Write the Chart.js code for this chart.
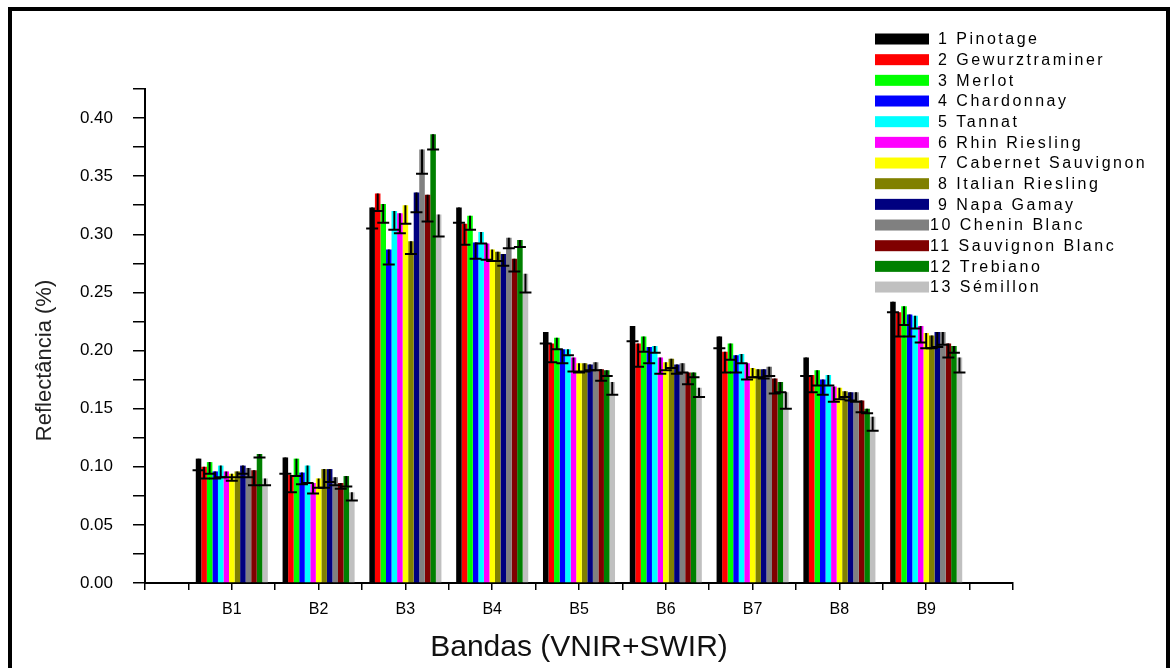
<!DOCTYPE html>
<html>
<head>
<meta charset="utf-8">
<script src="https://cdn.jsdelivr.net/npm/chart.js@4.4.1/dist/chart.umd.min.js"></script>
<style>
  html, body { margin: 0; padding: 0; background: #fff; overflow: hidden; }
  #wrap { position: relative; width: 1175px; height: 668px; }
  #frame { position: absolute; left: 8px; top: 7px; width: 1154px; height: 700px; border: 4px solid #000; pointer-events: none; }
</style>
</head>
<body>
<div id="wrap">
  <canvas id="myChart" width="1175" height="668"></canvas>
  <div id="frame"></div>
</div>
<script>
// bands on the x axis
const bands = ['B1', 'B2', 'B3', 'B4', 'B5', 'B6', 'B7', 'B8', 'B9'];

// grape varieties (legend order)
const varieties = ['1 Pinotage', '2 Gewurztraminer', '3 Merlot', '4 Chardonnay', '5 Tannat',
  '6 Rhin Riesling', '7 Cabernet Sauvignon', '8 Italian Riesling', '9 Napa Gamay',
  '10 Chenin Blanc', '11 Sauvignon Blanc', '12 Trebiano', '13 Sémillon'];

const colors = ['#000000', '#ff0000', '#00ff00', '#0000ff', '#00ffff', '#ff00ff', '#ffff00',
  '#808000', '#000080', '#808080', '#800000', '#008000', '#c0c0c0'];

// mean reflectance per band, one value per variety (1..13)
const b1 = [0.107, 0.100, 0.104, 0.096, 0.101, 0.096, 0.094, 0.096, 0.101, 0.099, 0.097, 0.111, 0.090];
const b2 = [0.108, 0.093, 0.107, 0.095, 0.101, 0.086, 0.090, 0.098, 0.098, 0.091, 0.086, 0.092, 0.078];
const b3 = [0.323, 0.335, 0.326, 0.287, 0.320, 0.318, 0.325, 0.294, 0.336, 0.373, 0.334, 0.386, 0.317];
const b4 = [0.323, 0.309, 0.316, 0.293, 0.302, 0.292, 0.287, 0.285, 0.283, 0.297, 0.279, 0.295, 0.266];
const b5 = [0.216, 0.206, 0.211, 0.201, 0.201, 0.194, 0.189, 0.189, 0.188, 0.190, 0.184, 0.183, 0.173];
const b6 = [0.221, 0.206, 0.212, 0.203, 0.204, 0.194, 0.190, 0.193, 0.188, 0.189, 0.181, 0.181, 0.168];
const b7 = [0.212, 0.199, 0.206, 0.196, 0.197, 0.189, 0.185, 0.184, 0.184, 0.186, 0.176, 0.173, 0.164];
const b8 = [0.194, 0.179, 0.183, 0.175, 0.179, 0.169, 0.168, 0.165, 0.164, 0.164, 0.157, 0.150, 0.143];
const b9 = [0.242, 0.233, 0.238, 0.231, 0.230, 0.221, 0.215, 0.213, 0.216, 0.216, 0.206, 0.204, 0.194];

// error (drawn downwards) per band
const b1Err = [0.010, 0.010, 0.010, 0.006, 0.010, 0.005, 0.006, 0.005, 0.007, 0.008, 0.013, 0.003, 0.006];
const b2Err = [0.014, 0.015, 0.015, 0.010, 0.015, 0.009, 0.008, 0.016, 0.011, 0.007, 0.005, 0.009, 0.007];
const b3Err = [0.018, 0.015, 0.016, 0.013, 0.016, 0.017, 0.016, 0.011, 0.017, 0.021, 0.023, 0.013, 0.019];
const b4Err = [0.013, 0.018, 0.012, 0.014, 0.010, 0.014, 0.010, 0.008, 0.010, 0.009, 0.011, 0.006, 0.016];
const b5Err = [0.010, 0.016, 0.010, 0.012, 0.005, 0.012, 0.008, 0.007, 0.005, 0.007, 0.010, 0.005, 0.011];
const b6Err = [0.013, 0.020, 0.013, 0.014, 0.006, 0.014, 0.007, 0.008, 0.008, 0.008, 0.010, 0.004, 0.008];
const b7Err = [0.010, 0.018, 0.014, 0.015, 0.008, 0.014, 0.008, 0.007, 0.008, 0.008, 0.013, 0.009, 0.014];
const b8Err = [0.016, 0.015, 0.013, 0.013, 0.009, 0.013, 0.010, 0.005, 0.007, 0.008, 0.010, 0.004, 0.012];
const b9Err = [0.009, 0.021, 0.016, 0.019, 0.011, 0.014, 0.013, 0.011, 0.013, 0.011, 0.012, 0.006, 0.013];

const means = [b1, b2, b3, b4, b5, b6, b7, b8, b9];
const errs = [b1Err, b2Err, b3Err, b4Err, b5Err, b6Err, b7Err, b8Err, b9Err];

const FONT = '"Liberation Sans", Arial, sans-serif';

// ticks every half band, so the sample size is half a band: 1.66 -> ~83% of a band
let datasets = varieties.map((name, i) => ({
  label: name,
  backgroundColor: colors[i],
  borderWidth: 0,
  data: bands.map((b, j) => ({ x: j + 1, y: means[j][i] })),
  errors: bands.map((b, j) => errs[j][i]),
  categoryPercentage: 1.66,
  barPercentage: 1.0
}));

// minus-direction error bars with a cap
const errorBars = {
  id: 'errorBars',
  afterDatasetsDraw(chart) {
    const ctx = chart.ctx;
    const yScale = chart.scales.y;
    ctx.save();
    ctx.strokeStyle = '#000';
    ctx.lineWidth = 2;
    chart.data.datasets.forEach((ds, i) => {
      chart.getDatasetMeta(i).data.forEach((bar, j) => {
        const v = ds.data[j].y;
        const top = yScale.getPixelForValue(v);
        const low = yScale.getPixelForValue(v - ds.errors[j]);
        ctx.beginPath();
        ctx.moveTo(bar.x, top);
        ctx.lineTo(bar.x, low);
        ctx.moveTo(bar.x - 6, low);
        ctx.lineTo(bar.x + 6, low);
        ctx.stroke();
      });
    });
    ctx.restore();
  }
};

// legend in the top right corner, like the original
const sideLegend = {
  id: 'sideLegend',
  afterDraw(chart) {
    const ctx = chart.ctx;
    ctx.save();
    ctx.font = '16px ' + FONT;
    ctx.letterSpacing = '2.5px';
    ctx.textBaseline = 'middle';
    chart.data.datasets.forEach((ds, i) => {
      const yc = 39 + i * 20.67;
      ctx.fillStyle = ds.backgroundColor;
      ctx.fillRect(875, yc - 5.5, 54, 11);
      ctx.fillStyle = '#000';
      ctx.fillText(ds.label, i < 9 ? 938 : 930, yc + 1);
    });
    ctx.restore();
  }
};

var ctx = document.getElementById('myChart').getContext('2d');
var chart = new Chart(ctx, {
  type: 'bar',
  data: { datasets: datasets },
  plugins: [errorBars, sideLegend],
  options: {
    responsive: false,
    animation: false,
    layout: { padding: { left: 0, right: 162, top: 89, bottom: 0 } },
    plugins: { legend: { display: false }, tooltip: { enabled: false } },
    scales: {
      x: {
        type: 'linear',
        min: 0,
        max: 10,
        offset: false,
        afterFit(scale) { scale.height = 85; },
        grid: { offset: false, drawOnChartArea: false, drawTicks: true, tickLength: 7, color: '#000', lineWidth: 1.5 },
        border: { color: '#000', width: 2 },
        ticks: {
          stepSize: 0.5,
          autoSkip: false,
          maxRotation: 0,
          padding: 10,
          color: '#000',
          font: { family: FONT, size: 16 },
          callback: v => (Number.isInteger(v) && v >= 1 && v <= 9) ? bands[v - 1] : ''
        },
        title: {
          display: true,
          text: 'Bandas (VNIR+SWIR)',
          color: '#111',
          font: { family: FONT, size: 30 },
          padding: { top: 0, bottom: 2 }
        }
      },
      y: {
        min: 0,
        max: 0.425,
        afterFit(scale) { scale.width = 145; },
        grid: { drawOnChartArea: false, drawTicks: true, tickLength: 12, color: '#000', lineWidth: 1.5 },
        border: { color: '#000', width: 2 },
        ticks: {
          stepSize: 0.025,
          autoSkip: false,
          padding: 20,
          color: '#000',
          font: { family: FONT, size: 17 },
          callback: v => (Math.abs(v * 20 - Math.round(v * 20)) < 1e-6 && v < 0.41) ? v.toFixed(2) : ''
        },
        title: {
          display: true,
          text: 'Reflectância (%)\u00a0\u00a0\u00a0\u00a0\u00a0\u00a0\u00a0\u00a0',
          color: '#222',
          font: { family: FONT, size: 22 },
          padding: { top: 32, bottom: 0 }
        }
      }
    }
  }
});
</script>
</body>
</html>
